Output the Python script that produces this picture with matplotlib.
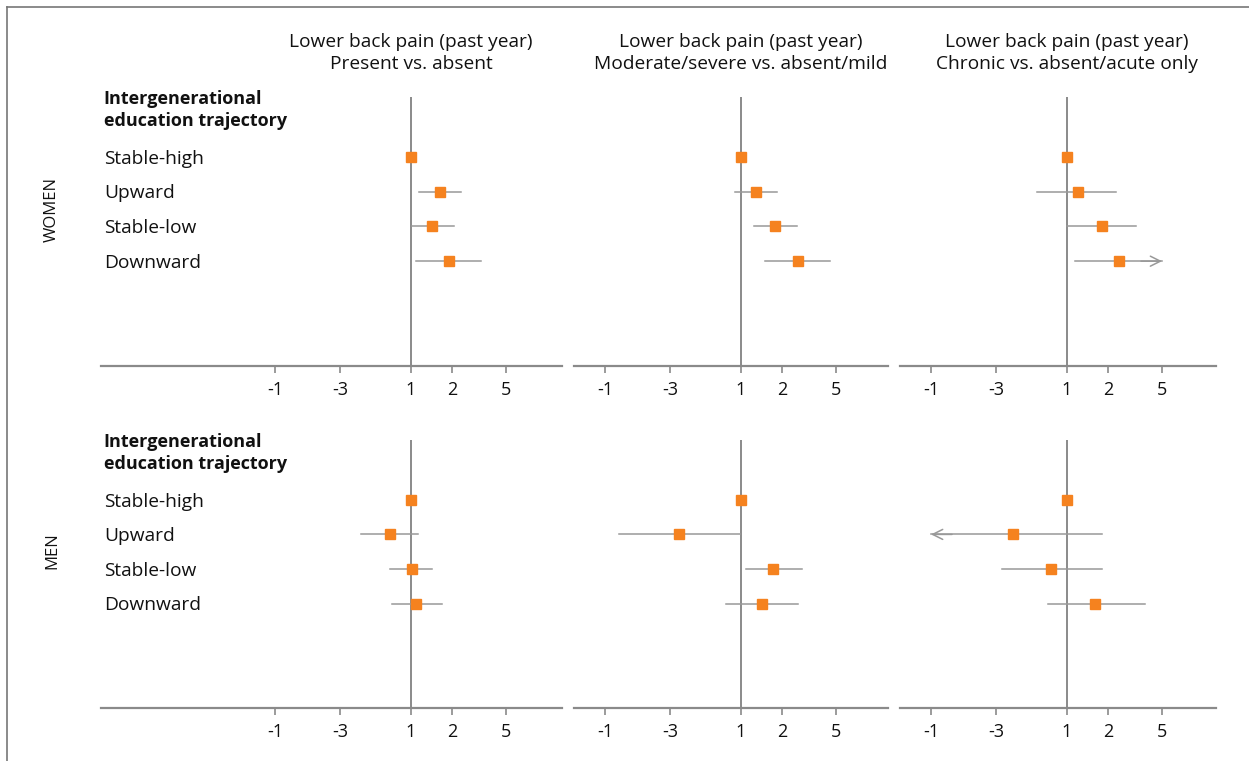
import numpy as np
import matplotlib
matplotlib.use("Agg")
import matplotlib.pyplot as plt
from matplotlib.lines import Line2D
from matplotlib.transforms import blended_transform_factory

plt.rcParams['font.family'] = ['Open Sans', 'DejaVu Sans']

# data: odds ratios with 95% CI, order = stable-high, upward, stable-low, downward
groups = ["Stable-high", "Upward", "Stable-low", "Downward"]
col_titles = ["Lower back pain (past year)\nPresent vs. absent",
              "Lower back pain (past year)\nModerate/severe vs. absent/mild",
              "Lower back pain (past year)\nChronic vs. absent/acute only"]
sexes = ["WOMEN", "MEN"]

women_or = [[1.0, 1.63, 1.43, 1.90], [1.0, 1.28, 1.79, 2.64], [1.0, 1.20, 1.80, 2.41]]
women_lo = [[1.0, 1.15, 1.02, 1.09], [1.0, 0.90, 1.25, 1.49], [1.0, 0.60, 1.00, 1.15]]
women_hi = [[1.0, 2.33, 2.07, 3.27], [1.0, 1.84, 2.56, 4.55], [1.0, 2.29, 3.24, 7.50]]

men_or = [[1.0, 0.70, 1.01, 1.09], [1.0, 0.35, 1.71, 1.43], [1.0, 0.40, 0.76, 1.61]]
men_lo = [[1.0, 0.43, 0.70, 0.72], [1.0, 0.127, 1.08, 0.78], [1.0, 0.06, 0.33, 0.72]]
men_hi = [[1.0, 1.12, 1.43, 1.69], [1.0, 0.99, 2.83, 2.62], [1.0, 1.80, 1.80, 3.75]]

tick_vals = [0.1, 0.3, 1, 2, 5]
tick_labels = ["-1", "-3", "1", "2", "5"]

W, H = 1249, 761
fig = plt.figure(figsize=(W / 100, H / 100), dpi=100)

orange = "#f5821f"
gray = "#8a8a8a"
txt = "#111111"
fs = 13.8

def px(x0, y0, x1, y1):
    return [x0 / W, 1 - y1 / H, (x1 - x0) / W, (y1 - y0) / H]

col_px = [(101, 562), (574, 888), (900, 1216)]
row_px = [(97, 366), (440, 708)]
ref_px = [411, 741, 1067]
lo_clip, hi_clip = 0.1, 5

for r, (ors, los, his) in enumerate([(women_or, women_lo, women_hi), (men_or, men_lo, men_hi)]):
    y0, y1 = row_px[r]
    for c in range(3):
        x0, x1 = col_px[c]
        ax = fig.add_axes(px(x0, y0, x1, y1))
        ax.set_xscale("log")
        # 136 px per decade, 1 at the reference line
        ax.set_xlim(10 ** ((x0 - ref_px[c]) / 136), 10 ** ((x1 - ref_px[c]) / 136))
        ax.set_ylim(6.02, -1.73)
        for s in ["top", "right", "left"]:
            ax.spines[s].set_visible(False)
        ax.spines["bottom"].set_color(gray)
        ax.spines["bottom"].set_linewidth(1.6)
        ax.set_yticks([])
        ax.set_xticks(tick_vals)
        ax.set_xticklabels(tick_labels)
        ax.xaxis.set_minor_locator(matplotlib.ticker.NullLocator())
        ax.tick_params(axis="x", colors=gray, labelcolor=txt, labelsize=13,
                       length=5, width=1.2, pad=6)
        ax.axvline(1, color=gray, lw=1.4, zorder=1)

        for i in range(4):
            lo, hi, est = los[c][i], his[c][i], ors[c][i]
            if hi > lo:
                a, b = max(lo, lo_clip), min(hi, hi_clip)
                ax.plot([a, b], [i, i], color="#999999", lw=1.1, zorder=2)
                if hi > hi_clip:
                    ax.annotate("", xy=(hi_clip, i), xytext=(hi_clip * 0.7, i),
                                arrowprops=dict(arrowstyle="->", color="#999999", lw=1.1,
                                                mutation_scale=18, shrinkA=0, shrinkB=0))
                if lo < lo_clip:
                    ax.annotate("", xy=(lo_clip, i), xytext=(lo_clip / 0.7, i),
                                arrowprops=dict(arrowstyle="->", color="#999999", lw=1.1,
                                                mutation_scale=18, shrinkA=0, shrinkB=0))
            ax.plot(est, i, marker="s", ms=7, color=orange, mec=orange, zorder=3)

        if c == 0:
            tr = blended_transform_factory(ax.transAxes, ax.transData)
            ax.text(0.006, -1.68, "Intergenerational", transform=tr, fontsize=13,
                    fontweight="bold", va="center", color=txt)
            ax.text(0.006, -1.05, "education trajectory", transform=tr, fontsize=13,
                    fontweight="bold", va="center", color=txt)
            for i, g in enumerate(groups):
                ax.text(0.006, i + 0.05, g, transform=tr, fontsize=fs, va="center", color=txt)

for c in range(3):
    fig.text(ref_px[c] / W, 1 - 53 / H, col_titles[c], ha="center", va="center",
             fontsize=fs, color=txt, linespacing=1.3)

fig.text(52 / W, 1 - 209 / H, sexes[0], rotation=90, ha="center", va="center",
         fontsize=12, color=txt)
fig.text(52 / W, 1 - 551 / H, sexes[1], rotation=90, ha="center", va="center",
         fontsize=12, color=txt)

# outer frame (top and left edges visible)
fig.add_artist(Line2D([7 / W, 1.0], [1 - 7 / H, 1 - 7 / H], color="#777777", lw=1.2))
fig.add_artist(Line2D([7 / W, 7 / W], [0.0, 1 - 7 / H], color="#777777", lw=1.2))

fig.savefig("out.png", dpi=100)
